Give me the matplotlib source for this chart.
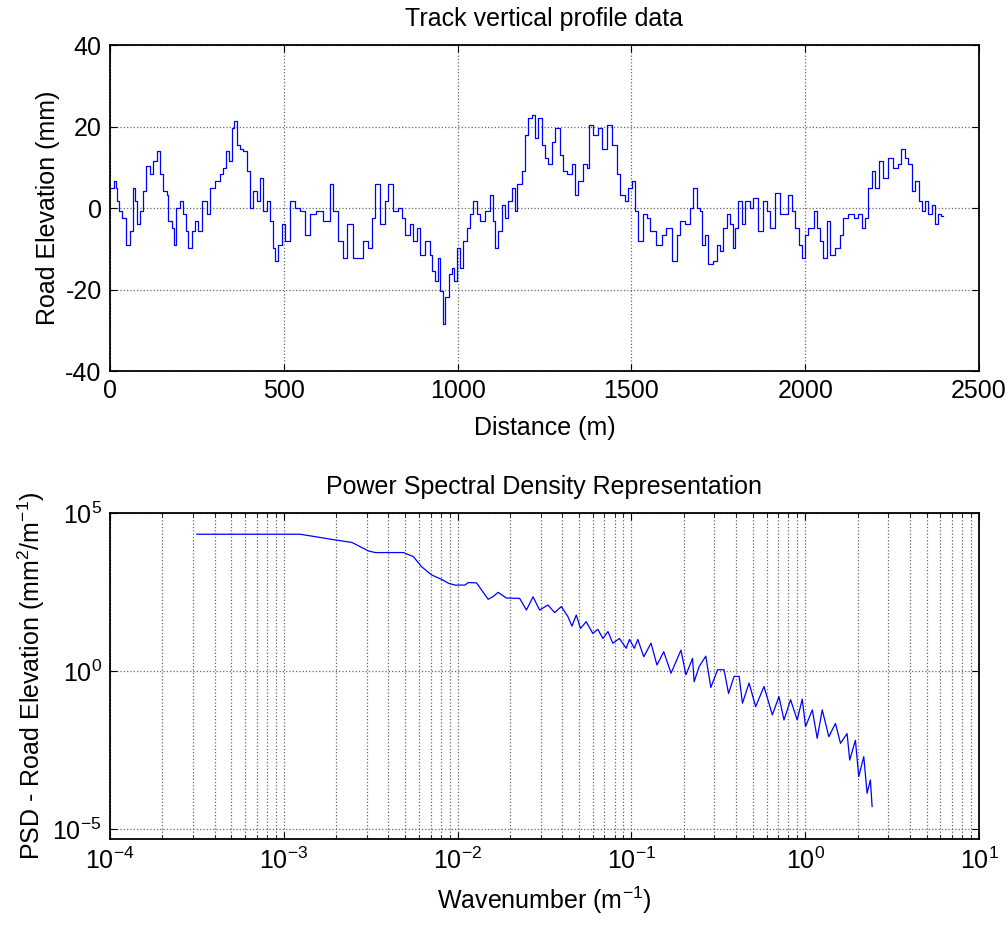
import numpy as np
import matplotlib
matplotlib.use('Agg')
import matplotlib.pyplot as plt
from matplotlib.ticker import LogLocator, NullFormatter, FixedLocator

plt.rcParams['font.family'] = ['Liberation Sans', 'DejaVu Sans']
plt.rcParams['mathtext.fontset'] = 'custom'
plt.rcParams['mathtext.rm'] = 'Liberation Sans'
plt.rcParams['mathtext.it'] = 'Liberation Sans:italic'
plt.rcParams['axes.unicode_minus'] = False

# Track profile (distance in m, elevation in mm)
distance = [0, 12, 17, 20, 25, 35, 46, 58, 67, 73, 79, 86, 96, 105, 115, 124, 136,
            143, 153, 163, 168, 178, 184, 191, 201, 211, 219, 225, 235, 245, 254,
            264, 278, 288, 303, 316, 326, 334, 343, 350, 357, 365, 374, 384, 393,
            403, 412, 422, 431, 441, 451, 460, 470, 476, 484, 494, 503, 518, 532,
            546, 561, 575, 594, 613, 633, 642, 657, 671, 681, 700, 714, 729, 743,
            753, 762, 777, 791, 800, 815, 830, 839, 849, 863, 873, 882, 892, 906,
            921, 925, 935, 945, 950, 957, 964, 974, 983, 990, 998, 1008, 1016,
            1026, 1036, 1045, 1055, 1064, 1079, 1094, 1103, 1108, 1117, 1127,
            1136, 1146, 1156, 1165, 1170, 1184, 1194, 1203, 1213, 1222, 1232,
            1242, 1251, 1261, 1271, 1280, 1295, 1304, 1314, 1328, 1338, 1347,
            1362, 1372, 1377, 1391, 1405, 1415, 1429, 1444, 1458, 1468, 1482,
            1491, 1501, 1510, 1520, 1534, 1544, 1553, 1572, 1587, 1601, 1616,
            1630, 1640, 1654, 1669, 1678, 1688, 1697, 1702, 1712, 1721, 1736,
            1745, 1755, 1764, 1774, 1784, 1792, 1798, 1807, 1817, 1827, 1841,
            1851, 1865, 1880, 1889, 1899, 1913, 1928, 1942, 1951, 1961, 1971,
            1981, 1990, 2000, 2009, 2024, 2033, 2043, 2052, 2062, 2071, 2086,
            2100, 2110, 2124, 2139, 2153, 2163, 2172, 2182, 2191, 2201, 2211,
            2225, 2239, 2254, 2268, 2277, 2287, 2297, 2306, 2316, 2326, 2335,
            2345, 2354, 2364, 2373, 2383, 2392, 2396]
elevation = [5.0, 6.6, 5.0, 1.7, -0.7, -2.4, -9.0, -5.6, 5.0, 1.7, -4.0, -0.7,
             4.2, 10.3, 8.3, 11.5, 14.0, 8.3, 4.2, 3.3, -3.2, -4.9, -9.0, 0.0,
             1.7, -1.5, -5.6, -9.8, -5.6, -3.2, -5.6, 1.7, -1.5, 5.0, 6.6, 8.3,
             9.9, 14.0, 11.5, 19.6, 21.3, 15.4, 14.6, 14.0, 9.1, 0.0, 4.2, 1.7,
             7.4, -0.7, 1.7, -3.2, -9.8, -13.0, -9.0, -4.0, -8.1, 1.7, 0.0, -0.7,
             -6.5, -1.5, -0.7, -3.2, 5.8, -0.7, -8.1, -12.2, -4.0, -12.2, -12.2,
             -8.1, -9.8, -2.4, 5.8, -4.0, 1.7, 5.8, -0.7, 0.0, -2.4, -6.5, -4.0,
             -8.1, -4.9, -11.4, -8.1, -11.4, -15.4, -17.9, -12.2, -20.3, -28.4,
             -21.9, -16.2, -14.6, -17.9, -9.8, -14.6, -8.1, -4.9, -1.5, 1.7,
             -1.5, -3.2, -0.7, 3.3, -3.2, -9.8, -5.6, 0.8, -2.4, 1.7, 5.0, -0.7,
             5.8, 9.1, 17.9, 22.0, 22.8, 17.1, 22.0, 15.4, 12.3, 10.7, 16.3,
             19.6, 13.1, 9.1, 8.3, 10.7, 3.3, 6.6, 10.7, 9.9, 20.4, 17.9, 19.6,
             14.6, 20.4, 15.4, 8.3, 3.3, 1.7, 5.0, 6.6, -0.7, -8.1, -1.5, -2.4,
             -5.6, -9.0, -6.5, -4.9, -13.0, -6.5, -3.2, -4.0, 0.0, 5.0, 0.0, -0.7,
             -9.0, -6.5, -13.8, -13.0, -9.0, -10.6, -4.9, -1.5, -4.0, -9.8, -4.9,
             1.7, -4.0, 1.7, 0.0, 2.5, -5.6, 1.7, -0.7, -4.9, 3.7, -1.5, -1.5,
             3.3, -0.7, -4.9, -9.0, -12.2, -6.5, -4.9, -0.7, -4.9, -8.1, -12.2,
             -3.2, -11.4, -9.8, -6.5, -2.4, -1.5, -2.4, -1.5, -4.9, -2.4, 5.0,
             9.1, 5.0, 11.5, 7.4, 12.3, 9.9, 10.7, 14.6, 12.3, 10.7, 4.2, 6.6,
             1.7, -0.7, 1.7, -1.5, 0.8, -4.0, -1.5, -1.9, -1.9]

# PSD (log10 of wavenumber, log10 of PSD)
log_wavenumber = [-3.500, -2.905, -2.704, -2.608, -2.512, -2.474, -2.312, -2.254,
                  -2.207, -2.149, -2.092, -2.053, -2.015, -1.958, -1.939, -1.891,
                  -1.824, -1.795, -1.767, -1.719, -1.643, -1.604, -1.566, -1.528,
                  -1.480, -1.442, -1.403, -1.365, -1.342, -1.317, -1.293, -1.260,
                  -1.222, -1.193, -1.164, -1.135, -1.107, -1.069, -1.030, -1.011,
                  -0.983, -0.963, -0.929, -0.887, -0.853, -0.814, -0.772, -0.715,
                  -0.686, -0.648, -0.639, -0.610, -0.572, -0.543, -0.504, -0.467,
                  -0.441, -0.409, -0.380, -0.361, -0.323, -0.285, -0.237, -0.189,
                  -0.151, -0.122, -0.084, -0.046, -0.017, 0.002, 0.041, 0.069,
                  0.098, 0.136, 0.174, 0.203, 0.241, 0.256, 0.289, 0.308, 0.337,
                  0.356, 0.375, 0.385]
log_psd = [4.33, 4.33, 4.15, 4.07, 3.80, 3.75, 3.75, 3.62, 3.30, 3.04, 2.90, 2.78,
           2.72, 2.72, 2.80, 2.79, 2.27, 2.36, 2.49, 2.31, 2.30, 1.93, 2.35, 1.93,
           2.09, 1.85, 2.04, 1.72, 1.42, 1.77, 1.35, 1.56, 1.19, 1.32, 1.03, 1.25,
           0.88, 1.03, 0.72, 1.00, 0.72, 1.00, 0.45, 0.88, 0.19, 0.61, -0.07, 0.66,
           -0.12, 0.40, -0.34, 0.14, 0.47, -0.52, 0.04, 0.04, -0.71, -0.17, -0.17,
           -1.02, -0.38, -1.13, -0.49, -1.39, -0.81, -1.55, -0.91, -1.55, -0.89,
           -1.76, -1.23, -2.13, -1.23, -2.08, -1.66, -2.29, -1.98, -2.82, -2.19,
           -3.34, -2.71, -3.87, -3.45, -4.29]

wavenumber = 10 ** np.array(log_wavenumber)
psd = 10 ** np.array(log_psd)

fig = plt.figure(figsize=(10.07, 9.30), dpi=100)
ax1 = fig.add_axes([0.1092, 0.601, 0.863, 0.3505])
ax2 = fig.add_axes([0.1092, 0.0978, 0.863, 0.3505])

fs = 18

# top: elevation profile
ax1.plot(distance, elevation, color='blue', linewidth=0.9, drawstyle='steps-post')
ax1.set_xlim(0, 2500)
ax1.set_ylim(-40, 40)
ax1.set_xticks([0, 500, 1000, 1500, 2000, 2500])
ax1.set_yticks([-40, -20, 0, 20, 40])
ax1.set_title('Track vertical profile data', fontsize=fs, pad=14)
ax1.set_xlabel('Distance (m)', fontsize=fs, labelpad=9)
ax1.set_ylabel('Road Elevation (mm)', fontsize=fs, labelpad=4)

# bottom: PSD
ax2.loglog(wavenumber, psd, color='blue', linewidth=0.9)
ax2.set_xlim(1e-4, 1e1)
ax2.set_ylim(10 ** -5.32, 1e5)
ax2.xaxis.set_major_locator(LogLocator(base=10, numticks=10))
ax2.xaxis.set_minor_locator(LogLocator(base=10, subs=np.arange(2, 10), numticks=20))
ax2.xaxis.set_minor_formatter(NullFormatter())
ax2.yaxis.set_major_locator(FixedLocator([1e-5, 1e0, 1e5]))
ax2.yaxis.set_minor_locator(FixedLocator([]))
ax2.set_title('Power Spectral Density Representation', fontsize=fs, pad=14)
ax2.set_xlabel('Wavenumber (m$^{-1}$)', fontsize=fs, labelpad=8)
ax2.set_ylabel('PSD - Road Elevation (mm$^{2}$/m$^{-1}$)', fontsize=fs, labelpad=4)
ax2.grid(True, which='minor', axis='x', linestyle=':', color='0.4', linewidth=0.9)

for ax in (ax1, ax2):
    ax.grid(True, which='major', linestyle=':', color='0.4', linewidth=0.9)
    ax.tick_params(which='both', direction='in', top=True, right=True,
                   labelsize=fs, pad=6)
    ax.tick_params(which='major', length=5)
    ax.tick_params(which='minor', length=3)
    for s in ax.spines.values():
        s.set_linewidth(1.3)

plt.savefig('out.png', dpi=100)
